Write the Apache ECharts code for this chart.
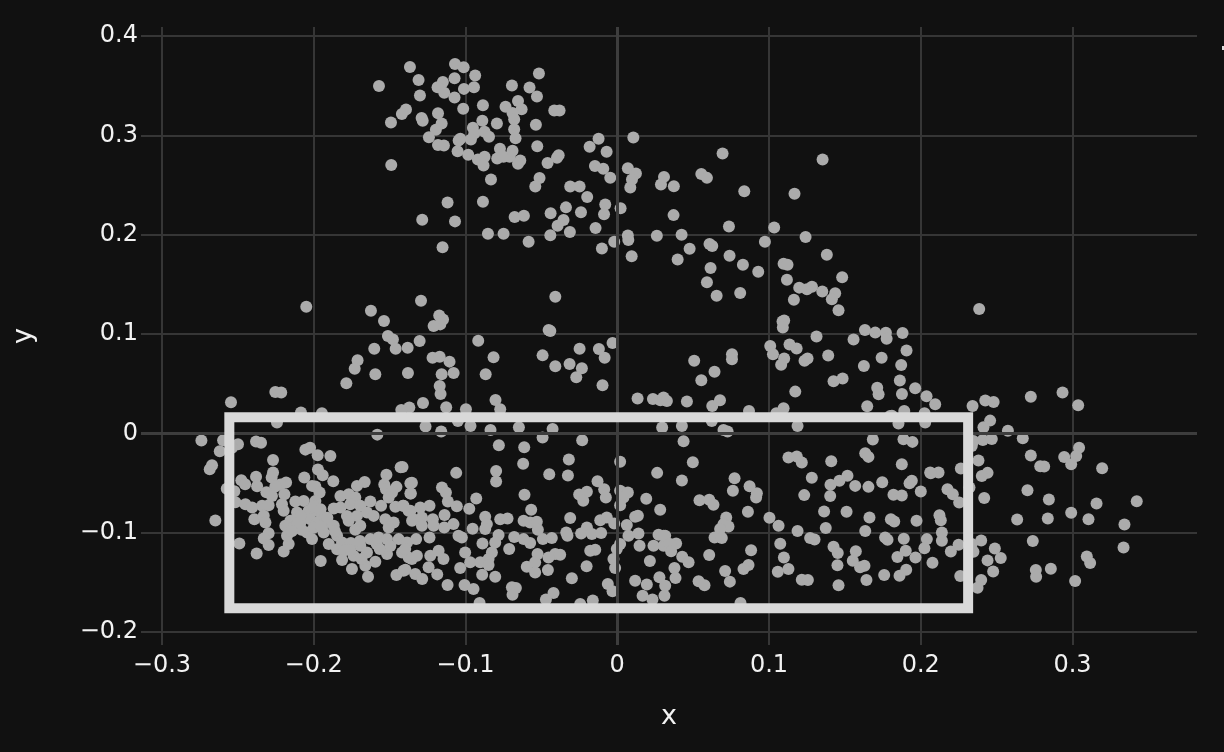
<!DOCTYPE html>
<html>
<head>
<meta charset="utf-8">
<title>scatter</title>
<script src="https://cdn.jsdelivr.net/npm/echarts@6/dist/echarts.min.js"></script>
<style>
html, body { margin: 0; padding: 0; background: #111111; }
#chart { width: 1224px; height: 752px; }
</style>
</head>
<body>
<div id="chart"></div>
<script>
const xTicks = [-0.3, -0.2, -0.1, 0, 0.1, 0.2, 0.3]
const yTicks = [-0.2, -0.1, 0, 0.1, 0.2, 0.3, 0.4]

// selection box corners
const boxX = [-0.2556, 0.2312, 0.2312, -0.2556, -0.2556]
const boxY = [0.0161, 0.0161, -0.176, -0.176, 0.0161]

// points, grouped by area
const topLobe = [
	[-.1366,.3689],[-.157,.3498],[-.1309,.3558],[-.13,.3401],[-.1069,.3719],[-.1012,.3685],[-.1072,.3575],[-.0936,.3602],[-.1149,.3538],[-.1184,.3484],
	[-.114,.3428],[-.101,.3468],[-.0944,.3484],[-.1072,.3381],[-.1015,.3267],[-.0885,.3304],[-.0694,.3501],[-.0516,.3622],[-.0578,.3481],[-.0529,.3391],
	[-.0654,.3347],[-.0736,.3287],[-.063,.3263],[-.069,.3226],[-.0679,.3163],[-.0415,.325],[-.038,.325],[-.1392,.326],[-.1419,.3216],[-.1491,.3129],
	[-.1181,.3223],[-.1289,.3176],[-.1282,.3146],[-.1157,.3119],[-.1195,.3056],[-.1241,.2982],[-.1181,.2902],[-.1142,.2898],[-.0889,.3146],[-.0793,.3119],
	[-.0951,.3076],[-.0942,.3019],[-.0964,.2959],[-.0874,.3036],[-.0845,.2985],[-.1034,.2965],[-.1045,.2948],[-.0679,.3062],[-.067,.2972],[-.0536,.3106],
	[-.0527,.2891],[-.1052,.2841],[-.0982,.2804],[-.0918,.2757],[-.0874,.2784],[-.0881,.2697],[-.0773,.2865],[-.0791,.2768],[-.0749,.2784],[-.0709,.2784],
	[-.069,.2845],[-.0639,.2747],[-.0654,.2714],[-.0386,.2801],[-.0397,.2774],[-.0459,.2721],[-.1489,.2701],[-.0832,.2556],[-.0512,.257],[-.054,.2486],
	[-.1118,.2325],[-.0885,.2332],[-.1285,.2151],[-.1069,.2134],[-.1151,.1873],[-.0852,.201],[-.0749,.201],[-.0584,.193],[-.0676,.2178],[-.0615,.2191],
	[-.0439,.2215],[-.0338,.2275],[-.0239,.2225],[-.0354,.2148],[-.0393,.2091],[-.0441,.1994],[-.0312,.2027],[-.0143,.2067],[-.0079,.2305],[-.0087,.2205],
	[.0022,.2265],[-.002,.193],[-.0101,.186],[-.031,.2486],[-.0248,.2486],[-.0198,.2379],[-.0123,.2965],[-.0182,.2885],[-.007,.2835],[-.0147,.2691],
	[-.0092,.2664],[-.0046,.2573]
]
const rightShoulder = [
	[.0106,.2978],[.0694,.2817],[.1353,.2756],[.007,.2669],[.0123,.2616],[.0097,.2556],[.0086,.2475],[.0308,.2582],[.0288,.2505],[.0373,.2488],
	[.0554,.2612],[.0591,.2572],[.0837,.2438],[.1168,.2411],[.0371,.2197],[.0736,.2083],[.1034,.2073],[.1241,.1976],[.0261,.1989],[.0424,.2],
	[.007,.1993],[.0073,.1946],[.0095,.1782],[.0477,.1859],[.0398,.1751],[.0608,.1906],[.0626,.1885],[.074,.1788],[.0973,.1929],[.1381,.1798],
	[.0828,.1698],[.0615,.1664],[.0929,.1627],[.0591,.152],[.0655,.1386],[.081,.1413],[.1096,.1708],[.1122,.1698],[.1118,.1547],[.1482,.1571],
	[.1199,.1467],[.125,.145],[.1283,.1477],[.1351,.1427],[.1436,.141],[.1414,.135],[.1458,.1239],[.1164,.1346],[.1089,.1125],[.11,.1135],
	[.1091,.1065],[.1313,.0974],[.1557,.0944],[.1632,.1041],[.17,.1014],[.1008,.088],[.1026,.0797],[.1135,.0894],[.1182,.0854],[.11,.0753],
	[.108,.069],[.1254,.0753],[.1234,.073],[.139,.0783],[.0756,.0797],[.0756,.0746],[.0507,.073],[.0641,.0619],[.0554,.0535],[.1625,.0679],
	[.1485,.0552],[.1425,.0525],[.2385,.1251],[.177,.1013],[.1775,.0953],[.188,.101],[.1906,.0835],[.1742,.0762],[.1871,.0688],[.1862,.0531],
	[.1963,.0454],[.1876,.0397],[.1713,.046],[.1722,.0393],[.1173,.042],[.2038,.0373],[.2095,.0293],[.2341,.0276],[.2425,.033],[.248,.0316],
	[.1647,.0273],[.0134,.035],[.0235,.0346],[.0284,.0333],[.0305,.036],[.0327,.0326],[.0459,.032],[.0677,.0333],[.0626,.0276],[.0868,.0226],
	[.1096,.0252],[.1048,.0202],[.1891,.0226],[.181,.0176],[.2025,.0202]
]
const leftShoulder = [
	[-.2049,.1274],[-.1623,.1234],[-.1293,.1335],[-.1537,.113],[-.1173,.1187],[-.1148,.1147],[-.1166,.1097],[-.121,.108],[-.0408,.1375],[-.0441,.103],
	[-.0452,.104],[-.1511,.098],[-.1478,.0946],[-.1302,.0929],[-.146,.0852],[-.1381,.0862],[-.1601,.0852],[-.0916,.0933],[-.0815,.0765],[-.0867,.0594],
	[-.1711,.0735],[-.173,.0651],[-.1594,.0594],[-.1379,.0608],[-.1217,.0762],[-.117,.0772],[-.1105,.0722],[-.1157,.0594],[-.1078,.0608],[-.117,.0477],
	[-.1164,.0397],[-.1785,.0504],[-.2253,.0417],[-.2214,.041],[-.128,.0306],[-.137,.0259],[-.1423,.0236],[-.1127,.0263],[-.0997,.0242],[-.0802,.0336],
	[-.0771,.0242],[-.2084,.0209],[-.1946,.0202],[-.0492,.0785],[-.0408,.0675],[-.0314,.0698],[-.0248,.0852],[-.0233,.0655],[-.027,.0564],[-.0121,.0849],
	[-.0083,.0762],[-.0031,.0909],[-.0097,.0484],[-.2545,.0312],[-.2242,.0108]
]
const denseLeft = [
	[-.1581,-.0013],[-.274,-.0073],[-.2597,-.007],[-.2499,-.011],[-.2538,-.0144],[-.2619,-.0181],[-.238,-.0083],[-.2347,-.0094],[-.2055,-.0164],[-.2024,-.0144],
	[-.1974,-.0221],[-.189,-.0228],[-.2268,-.0268],[-.267,-.0321],[-.2685,-.0362],[-.1427,-.0341],[-.1972,-.0365],[-.1941,-.0422],[-.2268,-.0395],[-.2277,-.0445],
	[-.2062,-.0445],[-.1871,-.0482],[-.1521,-.0418],[-.238,-.0438],[-.2373,-.0532],[-.2477,-.0472],[-.2452,-.0512],[-.2182,-.0496],[-.222,-.0516],[-.2253,-.0536],
	[-.1664,-.0489],[-.1715,-.0529],[-.2011,-.0529],[-.1989,-.0536],[-.1535,-.0516],[-.1524,-.0563],[-.1455,-.0539],[-.1484,-.0596],[-.1506,-.0646],[-.2573,-.0559],
	[-.2523,-.0583],[-.2312,-.0593],[-.2275,-.063],[-.2193,-.0613],[-.1961,-.0596],[-.1824,-.063],[-.1769,-.0613],[-.1726,-.0646],[-.1363,-.0502],[-.1363,-.0606],
	[-.2516,-.0693],[-.245,-.0713],[-.2406,-.0747],[-.234,-.073],[-.2297,-.0723],[-.2209,-.0713],[-.2198,-.078],[-.2121,-.0686],[-.2066,-.068],[-.1989,-.068],
	[-.1627,-.0686],[-.1556,-.073],[-.1462,-.074],[-.1412,-.073],[-.1868,-.0757],[-.1824,-.0747],[-.1759,-.0713],[-.1693,-.073],[-.2391,-.0864],[-.2329,-.083],
	[-.2318,-.0897],[-.2648,-.0877],[-.211,-.0797],[-.2033,-.078],[-.1978,-.078],[-.1945,-.0831],[-.2154,-.0881],[-.2187,-.0931],[-.2132,-.0948],[-.2088,-.0897],
	[-.2022,-.0864],[-.1978,-.0897],[-.1923,-.0897],[-.1868,-.0931],[-.1781,-.0831],[-.1715,-.0831],[-.1649,-.0797],[-.1605,-.0831],[-.1693,-.0931],[-.1726,-.0971],
	[-.177,-.0881],[-.1528,-.0864],[-.1473,-.0897],[-.1506,-.0948],[-.1363,-.078],[-.1352,-.0881],[-.2297,-.1005],[-.2329,-.1058],[-.2297,-.1125],[-.249,-.1109],
	[-.2376,-.1209],[-.2198,-.1189],[-.2165,-.1115],[-.2176,-.1031],[-.2044,-.0998],[-.2011,-.1065],[-.1934,-.0998],[-.1901,-.1115],[-.1846,-.1031],[-.1813,-.1099],
	[-.1846,-.1166],[-.1802,-.1182],[-.1954,-.1286],[-.1813,-.1276],[-.1748,-.1367],[-.1737,-.1233],[-.1693,-.1132],[-.1627,-.1065],[-.1572,-.1048],[-.1517,-.1065],
	[-.1649,-.1199],[-.166,-.1333],[-.1594,-.1293],[-.1517,-.1216],[-.1642,-.1444],[-.1455,-.1427],[-.1396,-.1373],[-.144,-.1065],[-.1418,-.1199],[-.1374,-.1249],
	[-.1385,-.1099],[-.2,-.0735],[-.2085,-.083],[-.1955,-.0765],[-.2105,-.0905],[-.2,-.095],[-.1955,-.093],[-.208,-.097],[-.2145,-.0985],[-.191,-.085],
	[-.186,-.0985],[-.1755,-.1105],[-.1695,-.1085],[-.1585,-.1115],[-.1565,-.1165],[-.1685,-.1265],[-.176,-.1175],[-.1495,-.1135]
]
const lowerMiddle = [
	[-.1263,.0068],[-.116,.0018],[-.105,.0125],[-.0967,.0074],[-.0835,.0034],[-.0648,.0061],[-.0426,.0044],[-.0492,-.0043],[-.0231,-.007],[.0296,.0058],
	[-.078,-.012],[-.0613,-.014],[-.062,-.0307],[-.0319,-.0264],[.0019,-.0287],[-.1415,-.0338],[-.1061,-.0398],[-.0798,-.0378],[-.0798,-.0485],[-.0448,-.0411],
	[-.0325,-.0425],[.0263,-.0398],[-.013,-.0482],[-.0086,-.0562],[-.0075,-.0646],[-.1353,-.0498],[-.136,-.0606],[-.1155,-.0545],[-.1129,-.0596],[-.1116,-.0686],
	[-.1057,-.0733],[-.0929,-.0656],[-.0975,-.076],[-.0611,-.0619],[-.0251,-.0616],[-.02,-.0589],[-.0224,-.0679],[.0019,-.0579],[.007,-.0596],[.0041,-.0646],
	[.0019,-.0723],[.0191,-.0659],[.0283,-.077],[-.1237,-.073],[-.1298,-.0746],[-.1408,-.073],[-.1375,-.078],[-.1342,-.0864],[-.1287,-.0847],[-.1287,-.0931],
	[-.1215,-.0864],[-.1138,-.0823],[-.121,-.0931],[-.114,-.0947],[-.1079,-.0914],[-.1237,-.1048],[-.1325,-.1065],[-.087,-.084],[-.0859,-.0914],[-.087,-.0964],
	[-.0953,-.0961],[-.0771,-.0864],[-.0723,-.0857],[-.0567,-.077],[-.0617,-.088],[-.0574,-.0897],[-.053,-.089],[-.0523,-.0971],[-.031,-.0853],[.0136,-.083],
	[.0118,-.084],[-.0112,-.0874],[-.0069,-.0847],[-.002,-.0907],[.0063,-.0924],[.0074,-.1031],[.014,-.1008],[.0147,-.1132],[-.02,-.0947],[-.0238,-.1008],
	[-.0167,-.1014],[-.0106,-.1004],[-.0336,-.0998],[-.0328,-.1031],[-.049,-.1065],[-.0431,-.1054],[-.0679,-.1044],[-.0617,-.1065],[-.0574,-.1105],[-.1046,-.1031],
	[-.1024,-.1048],[-.0782,-.1024],[-.0804,-.1098],[-.0826,-.1199],[-.0848,-.1266],[-.0888,-.1108],[-.0712,-.1165],[.0019,-.1115],[-.0003,-.1165],[-.0025,-.1266],
	[-.0014,-.1356],[.0272,-.1021],[.0316,-.1031],[.0239,-.1132],[.0305,-.1132],[-.0178,-.1182],[-.0145,-.1172],[-.0525,-.1215],[-.0409,-.1215],[-.0453,-.1249],
	[-.0376,-.1222],[-.0541,-.1299],[-.0596,-.1343],[-.0541,-.14],[-.0457,-.1376],[-.0202,-.1339],[.0215,-.1286],[-.0299,-.146],[-.1397,-.1165],[-.1353,-.1266],
	[-.1408,-.1383],[-.132,-.1232],[-.1232,-.1232],[-.1177,-.1182],[-.1145,-.1266],[-.1243,-.1349],[-.1331,-.1416],[-.1285,-.1467],[-.1186,-.142],[-.1002,-.1199],
	[-.1035,-.1356],[-.0969,-.1299],[-.0903,-.1299],[-.0848,-.1326],[-.089,-.1423],[-.0804,-.1443],[-.1118,-.1527],[-.1006,-.1527],[-.0947,-.1567],[-.0694,-.155],
	[-.0668,-.1557],[-.069,-.1624],[-.042,-.1607],[-.047,-.1674],[-.0062,-.1517],[-.0031,-.159],[.0118,-.1483],[.0195,-.1523],[.0167,-.1634],[.0232,-.1674],
	[.0278,-.145],[.0311,-.1634],[.0316,-.1534],[-.0907,-.1708],[-.0244,-.1718],[-.0161,-.1684]
]
const lowerRight = [
	[.1798,.0175],[.0623,.0125],[.0426,.0074],[.07,.0034],[.0727,.0018],[.1188,.0074],[.1853,.0098],[.2029,.0108],[.0437,-.008],[.1684,-.0063],
	[.1886,-.006],[.1945,-.0086],[.0498,-.0291],[.1128,-.0244],[.1183,-.0234],[.1216,-.0294],[.141,-.0281],[.1634,-.02],[.1655,-.0237],[.1875,-.0311],
	[.0426,-.0475],[.0773,-.0451],[.1282,-.0448],[.2062,-.0395],[.1517,-.0428],[.1464,-.0478],[.1405,-.0518],[.1568,-.0529],[.1655,-.0539],[.1746,-.0492],
	[.1941,-.0478],[.1926,-.0502],[.0762,-.0579],[.0872,-.0532],[.092,-.0602],[.0915,-.0646],[.1232,-.0622],[.1403,-.0632],[.182,-.0619],[.1875,-.0626],
	[.2,-.0585],[.0542,-.0673],[.0606,-.0669],[.0634,-.0719],[.0861,-.079],[.1363,-.0786],[.1511,-.079],[.1662,-.0847],[.1003,-.085],[.1063,-.0931],
	[.0718,-.0847],[.07,-.0914],[.0733,-.0937],[.0678,-.0964],[.1803,-.0864],[.1825,-.0887],[.1972,-.088],[.1374,-.0954],[.1188,-.0984],[.1634,-.0984],
	[.0641,-.1048],[.0689,-.1054],[.0305,-.1031],[.0388,-.1108],[.0349,-.1115],[.0355,-.1188],[.1271,-.1054],[.13,-.1068],[.1074,-.1111],[.1765,-.1048],
	[.1781,-.1071],[.1888,-.1061],[.204,-.1065],[.2024,-.1158],[.1425,-.1142],[.1453,-.1205],[.1572,-.1188],[.0882,-.1178],[.0606,-.1225],[.0428,-.1242],
	[.047,-.1299],[.1901,-.1182],[.1846,-.1245],[.1965,-.1249],[.1098,-.1249],[.1128,-.1366],[.1058,-.1393],[.1451,-.1329],[.1552,-.1282],[.16,-.1349],
	[.1629,-.1333],[.0865,-.1326],[.0832,-.1366],[.0711,-.1386],[.0377,-.1356],[.0384,-.1457],[.1904,-.1373],[.186,-.1433],[.1759,-.1426],[.0536,-.149],
	[.0575,-.153],[.0742,-.1493],[.1216,-.1473],[.1256,-.1477],[.1642,-.1477],[.1458,-.153],[.0812,-.1708]
]
const rightTail = [
	[.2725,.0369],[.2934,.0412],[.3037,.0282],[.2457,.0128],[.2413,.0061],[.2336,-.0127],[.2347,-.0077],[.2409,-.0067],[.2468,-.0057],[.2574,.0027],
	[.2672,-.005],[.2725,-.0224],[.238,-.0274],[.2787,-.0331],[.2813,-.0335],[.2945,-.0238],[.3043,-.0144],[.3024,-.0228],[.2991,-.0311],[.3195,-.0351],
	[.2117,-.0395],[.2066,-.0402],[.2264,-.0355],[.244,-.0398],[.2402,-.0429],[.2321,-.0546],[.2176,-.0563],[.2211,-.0613],[.2253,-.0696],[.2703,-.0573],
	[.2418,-.065],[.2844,-.0666],[.3423,-.0683],[.3158,-.0707],[.2991,-.08],[.3105,-.0864],[.2837,-.0857],[.2635,-.0867],[.3342,-.0918],[.2123,-.0824],
	[.2132,-.0874],[.2139,-.0998],[.2139,-.1082],[.2077,-.1303],[.2198,-.1189],[.2249,-.1122],[.2398,-.1078],[.2336,-.1115],[.2347,-.1192],[.2488,-.1159],
	[.2527,-.1256],[.244,-.1279],[.2477,-.139],[.226,-.1437],[.2398,-.1477],[.2374,-.1554],[.2738,-.1085],[.3336,-.1149],[.3094,-.1239],[.3116,-.1306],
	[.2857,-.1363],[.2758,-.1377],[.276,-.1444],[.3017,-.1487]
]

const points = [...topLobe, ...rightShoulder, ...leftShoulder, ...denseLeft, ...lowerMiddle, ...lowerRight, ...rightTail]

const gridColor = "#363636"
const zeroColor = "#3d3d3d"
const textColor = "#f2f2f2"
const fontFamily = "DejaVu Sans"
const tickLabel = v => String(v).replace("-", "\u2212")

const chart = echarts.init(document.getElementById("chart"), null, { renderer: "canvas" })
chart.setOption({
	animation: false,
	backgroundColor: "#111111",
	grid: { left: 141, right: 27, top: 27, bottom: 107 },
	xAxis: {
		type: "value",
		min: -0.3138,
		max: 0.382,
		name: "x",
		nameLocation: "middle",
		nameGap: 58,
		nameTextStyle: { color: textColor, fontSize: 27, fontFamily },
		axisLine: { show: false },
		axisTick: { show: false, customValues: xTicks },
		axisLabel: { customValues: xTicks, formatter: tickLabel, color: textColor, fontSize: 24, fontFamily, margin: 9 },
		splitLine: { show: true, lineStyle: { color: gridColor, width: 2 } },
	},
	yAxis: {
		type: "value",
		min: -0.2131,
		max: 0.4091,
		name: "y",
		nameLocation: "middle",
		nameGap: 104,
		nameTextStyle: { color: textColor, fontSize: 27, fontFamily },
		axisLine: { show: false },
		axisTick: { show: false, customValues: yTicks },
		axisLabel: { customValues: yTicks, formatter: tickLabel, color: textColor, fontSize: 24, fontFamily, margin: 3, padding: [3, 0, 0, 0] },
		splitLine: { show: true, lineStyle: { color: gridColor, width: 2 } },
	},
	graphic: [{ type: "rect", shape: { x: 1222, y: 46, width: 2, height: 4 }, style: { fill: "#dddddd" } }],
	series: [
		{
			type: "line",
			data: [],
			z: 1,
			silent: true,
			markLine: {
				silent: true,
				symbol: "none",
				label: { show: false },
				lineStyle: { color: zeroColor, width: 3, type: "solid" },
				data: [{ xAxis: 0 }, { yAxis: 0 }],
			},
		},
		{
			type: "scatter",
			data: points,
			z: 3,
			symbol: "circle",
			symbolSize: 12,
			itemStyle: { color: "#ababab", opacity: 1 },
		},
		{
			type: "line",
			data: boxX.map((x, i) => [x, boxY[i]]),
			z: 5,
			symbol: "none",
			silent: true,
			lineStyle: { color: "#d9d9d9", width: 10, cap: "square", join: "miter" },
		},
	],
})
</script>
</body>
</html>
